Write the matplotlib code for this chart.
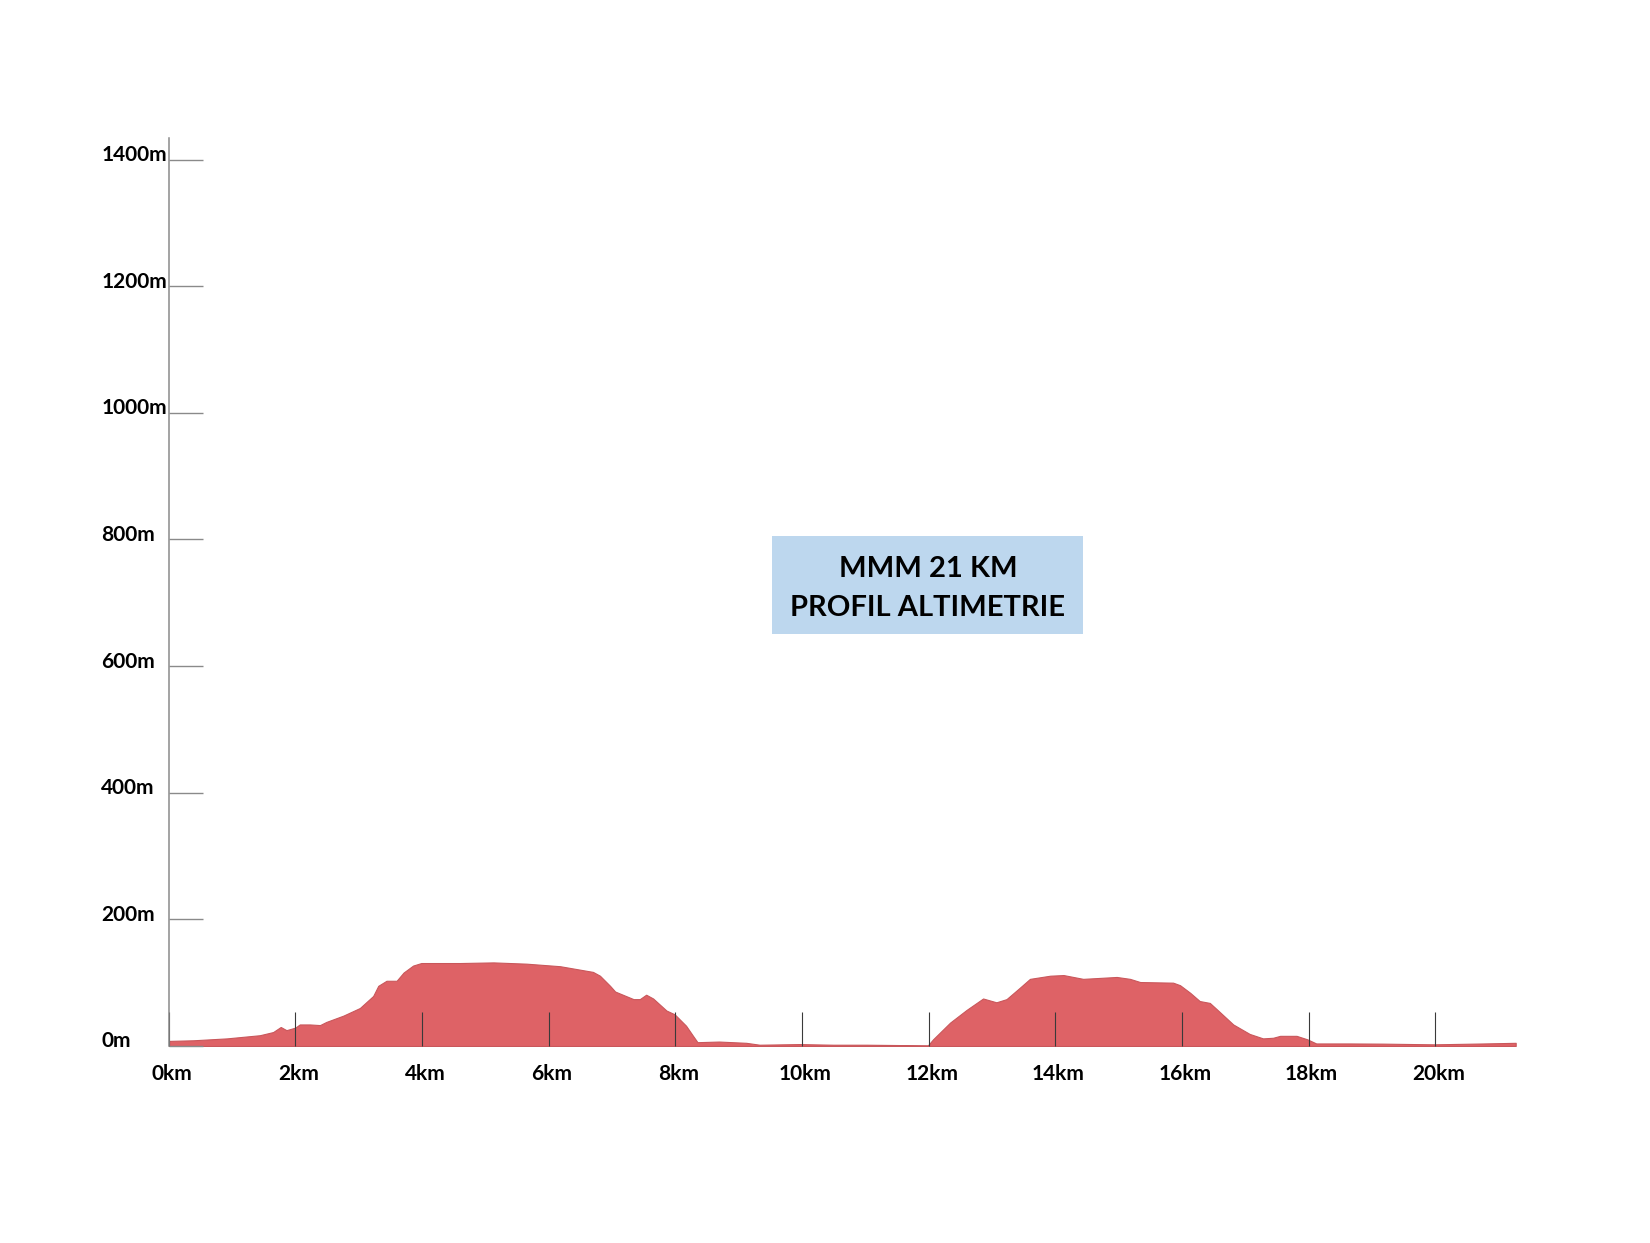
import matplotlib.pyplot as plt
from matplotlib.patches import Rectangle
from matplotlib.transforms import ScaledTranslation

plt.rcParams['font.family'] = ['Lato', 'DejaVu Sans']

# elevation profile (km, metres)
km = [0, 0.39, 0.92, 1.44, 1.65, 1.77, 1.86, 2.0, 2.07, 2.23, 2.39, 2.49, 2.76,
      3.02, 3.23, 3.31, 3.44, 3.6, 3.71, 3.86, 3.99, 4.6, 5.13, 5.65, 6.18, 6.7,
      6.81, 6.97, 7.05, 7.34, 7.44, 7.54, 7.65, 7.86, 7.99, 8.17, 8.28, 8.35,
      8.69, 9.12, 9.33, 9.96, 10.49, 11.02, 11.99, 12.07, 12.34, 12.6, 12.86,
      13.07, 13.23, 13.44, 13.6, 13.92, 14.13, 14.44, 14.97, 15.18, 15.34,
      15.86, 15.97, 16.13, 16.28, 16.44, 16.55, 16.81, 17.07, 17.28, 17.44,
      17.55, 17.81, 17.98, 18.12, 18.65, 19.18, 19.98, 20.77, 21.27]
elev = [8, 9, 12, 17, 22, 30, 25, 29, 34, 34, 33, 38, 48,
        60, 79, 95, 103, 103, 116, 127, 131, 131, 132, 130, 126, 117,
        111, 95, 86, 74, 74, 81, 75, 56, 50, 32, 16, 6,
        7, 5, 2, 3, 2, 2, 1, 10.5, 37, 57, 75,
        69, 74, 92, 106, 111, 112, 106, 109, 106, 101,
        100, 96, 84, 71, 68, 58, 34, 19, 12, 13,
        16, 16, 10.5, 4, 4, 3.7, 2.6, 4, 5]

y_ticks = [0, 200, 400, 600, 800, 1000, 1200, 1400]
y_labels = ['0m', '200m', '400m', '600m', '800m', '1000m', '1200m', '1400m']
x_ticks = [0, 2, 4, 6, 8, 10, 12, 14, 16, 18, 20]
x_labels = ['0km', '2km', '4km', '6km', '8km', '10km', '12km', '14km', '16km', '18km', '20km']
title_lines = ['MMM 21 KM', 'PROFIL ALTIMETRIE']

fig = plt.figure(figsize=(16.5, 12.43), dpi=100)
ax = fig.add_axes([0.1022, 0.1585, 0.8164, 0.7305])

ax.fill_between(km, elev, 0, facecolor='#DE6266', edgecolor='#C9575B', linewidth=0.8)
ax.set_xlim(0, 21.27)
ax.set_ylim(0, 1434)

for s in ['top', 'right', 'bottom']:
    ax.spines[s].set_visible(False)
ax.spines['left'].set_color('#8a8a8a')
ax.spines['left'].set_linewidth(1.1)

ax.set_yticks(y_ticks)
ax.set_yticklabels(y_labels, fontsize=15, fontweight='bold', ha='left')
ax.tick_params(axis='y', direction='in', length=24.5, width=1.0, color='#8a8a8a', pad=48.5)
for lab in ax.get_yticklabels():
    lab.set_transform(lab.get_transform() + ScaledTranslation(0, 0.065, fig.dpi_scale_trans))

ax.set_xticks(x_ticks)
ax.set_xticklabels(x_labels, fontsize=15, fontweight='bold', va='center')
ax.tick_params(axis='x', direction='in', length=24.5, width=0.8, color='#3a3a3a', pad=20)
for lab in ax.get_xticklabels():
    lab.set_transform(lab.get_transform() + ScaledTranslation(0.03, 0, fig.dpi_scale_trans))

# title box
fig.add_artist(Rectangle((0.4679, 0.4899), 0.1885, 0.0788, transform=fig.transFigure,
                         facecolor='#BDD7EE', edgecolor='none'))
fig.text(0.5624, 0.5422, title_lines[0], fontsize=21, fontweight='bold', ha='center', va='center')
fig.text(0.5624, 0.5109, title_lines[1], fontsize=21, fontweight='bold', ha='center', va='center')

fig.savefig('out.png', dpi=100)
